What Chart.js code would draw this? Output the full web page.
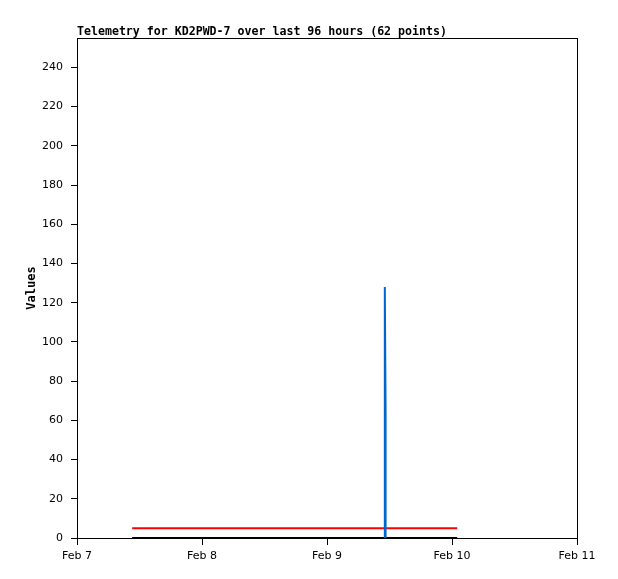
<!DOCTYPE html>
<html>
<head>
<meta charset="utf-8">
<script src="https://cdn.jsdelivr.net/npm/chart.js@4/dist/chart.umd.min.js"></script>
<style>
  html, body { margin: 0; padding: 0; background: #fff; }
  #wrap { width: 618px; height: 579px; }
</style>
</head>
<body>
<div id="wrap"><canvas id="telemetryChart" width="618" height="579"></canvas></div>
<script>
'use strict';

const TITLE = 'Telemetry for KD2PWD-7 over last 96 hours (62 points)';

// x values are hours since Feb 7 00:00
const X_TICKS  = [0, 24, 48, 72, 96];
const X_LABELS = ['Feb 7', 'Feb 8', 'Feb 9', 'Feb 10', 'Feb 11'];
const Y_TICKS  = [0, 20, 40, 60, 80, 100, 120, 140, 160, 180, 200, 220, 240];

const redHours   = [10.6, 73.0];
const redValues  = [5, 5];
const blackHours  = [10.6, 73.0];
const blackValues = [0, 0];
const blueHours  = [59.1, 59.1, 59.25, 59.25];
const blueValues = [0, 128, 64, 0];

const pts = (xs, ys) => xs.map((x, i) => ({ x, y: ys[i] }));

const MONO = '"DejaVu Sans Mono", "Liberation Mono", monospace';
const SANS = '"DejaVu Sans", sans-serif';

const framePlugin = {
  id: 'frame',
  afterDraw(chart) {
    const { ctx, chartArea: a } = chart;
    ctx.save();
    ctx.strokeStyle = '#000';
    ctx.lineWidth = 1;
    ctx.strokeRect(a.left + 0.5, a.top + 0.5, a.right - a.left, a.bottom - a.top);
    ctx.fillStyle = '#000';
    ctx.font = 'bold 11.6px ' + MONO;
    ctx.textAlign = 'left';
    ctx.textBaseline = 'alphabetic';
    ctx.fillText(TITLE, a.left, a.top - 3);
    ctx.restore();
  },
};

new Chart(document.getElementById('telemetryChart').getContext('2d'), {
  type: 'line',
  data: {
    datasets: [
      { data: pts(redHours, redValues),   borderColor: '#ff0000', borderWidth: 2, order: 3 },
      { data: pts(blackHours, blackValues), borderColor: '#000000', borderWidth: 2, order: 2 },
      { data: pts(blueHours, blueValues), borderColor: '#0066cc', borderWidth: 2, order: 1 },
    ],
  },
  options: {
    responsive: false,
    animation: false,
    layout: { padding: { top: 38, right: 41, left: 0, bottom: 0 } },
    elements: { point: { radius: 0 }, line: { tension: 0 } },
    plugins: {
      legend: { display: false },
      tooltip: { enabled: false },
      title: { display: false },
    },
    scales: {
      x: {
        type: 'linear',
        min: 0, max: 96,
        afterBuildTicks: (s) => { s.ticks = X_TICKS.map((v) => ({ value: v })); },
        afterFit: (s) => { s.height = 41; },
        ticks: {
          callback: (v) => X_LABELS[X_TICKS.indexOf(v)],
          color: '#000',
          font: { family: SANS, size: 11 },
          padding: 5,
          maxRotation: 0,
        },
        grid: { drawOnChartArea: false, drawTicks: true, tickLength: 7, color: '#000' },
        border: { color: '#000' },
      },
      y: {
        min: 0, max: 255,
        afterBuildTicks: (s) => { s.ticks = Y_TICKS.map((v) => ({ value: v })); },
        afterFit: (s) => { s.width = 77; },
        ticks: {
          color: '#000',
          font: { family: SANS, size: 11 },
          padding: 8,
        },
        grid: { drawOnChartArea: false, drawTicks: true, tickLength: 6, color: '#000' },
        border: { color: '#000' },
        title: {
          display: true,
          text: 'Values',
          color: '#000',
          font: { family: MONO, size: 12, weight: 'bold' },
          padding: { top: 25, bottom: 0 },
        },
      },
    },
  },
  plugins: [framePlugin],
});
</script>
</body>
</html>
